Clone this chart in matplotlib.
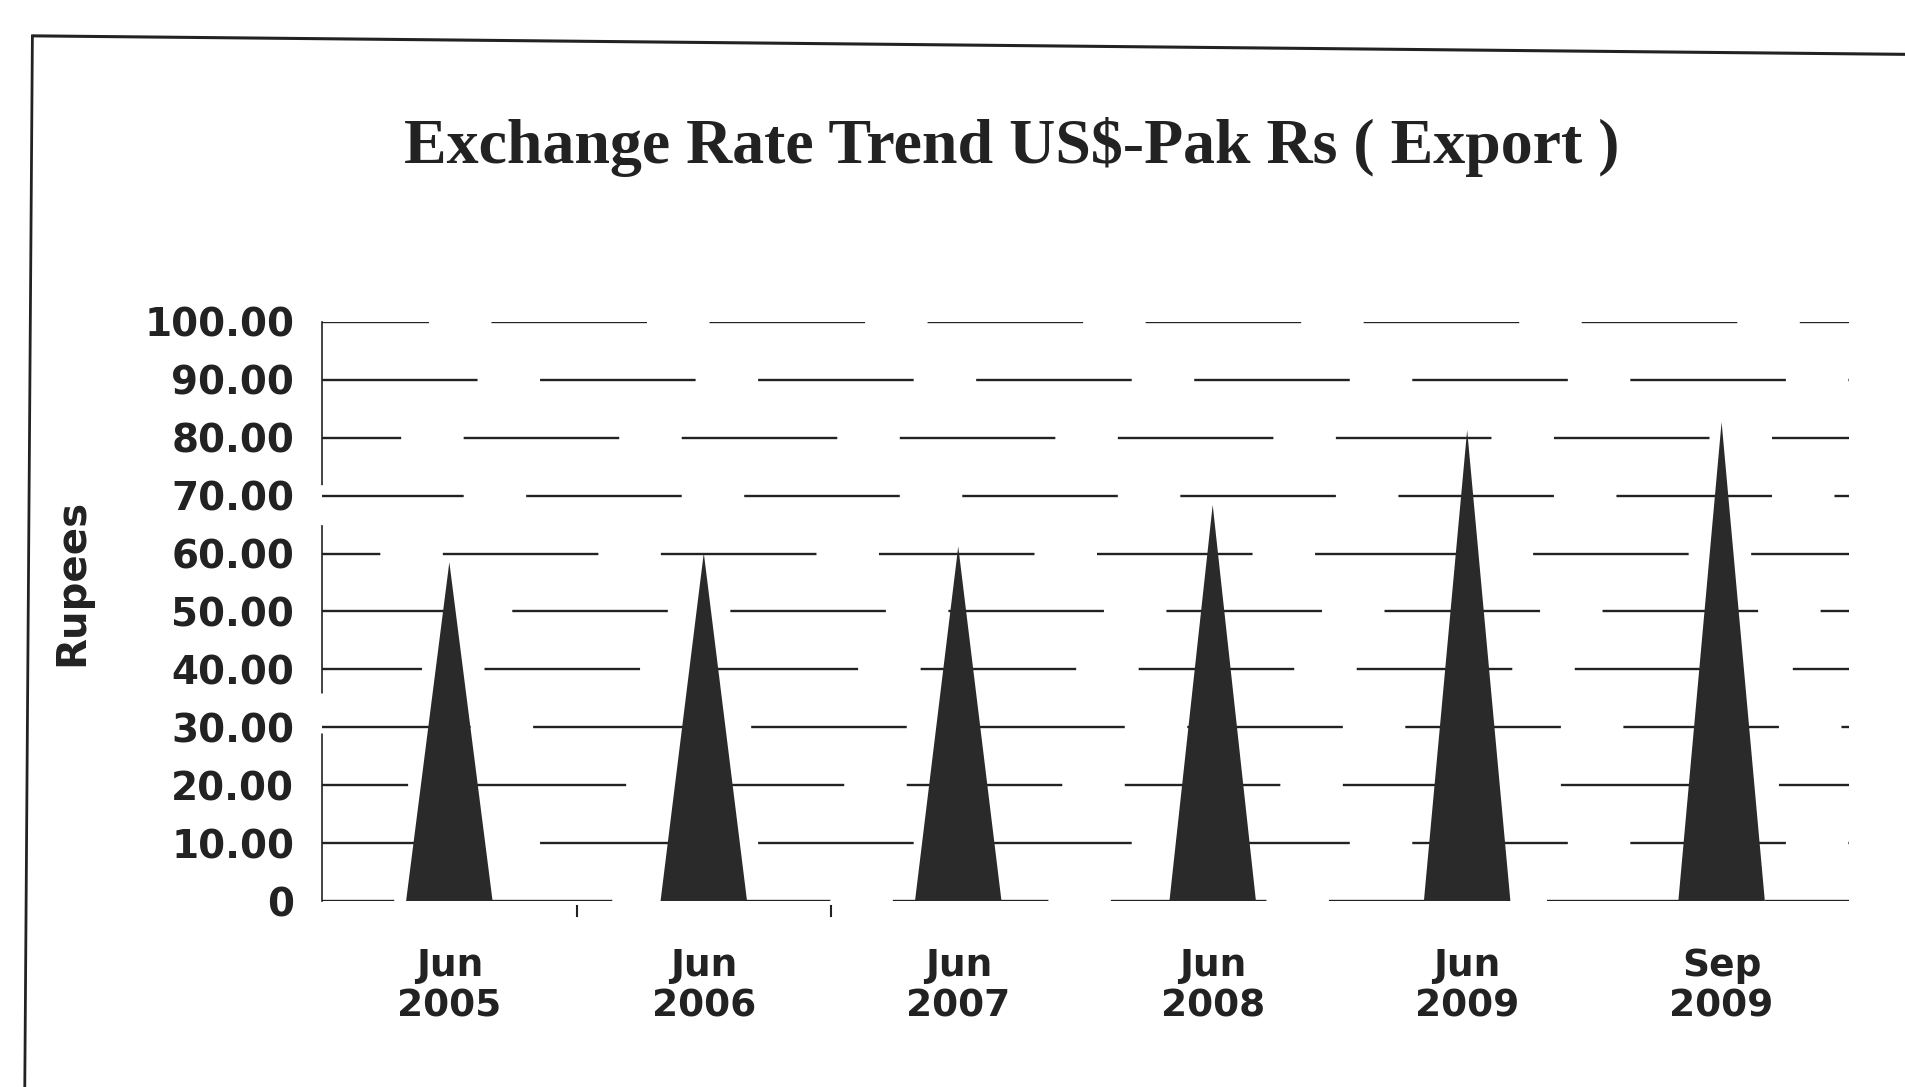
import matplotlib
matplotlib.use("Agg")
import matplotlib.pyplot as plt
from matplotlib.lines import Line2D

# Exchange rate (Pak Rs per US$, export) at each reporting date
periods = ["Jun\n2005", "Jun\n2006", "Jun\n2007", "Jun\n2008", "Jun\n2009", "Sep\n2009"]
rates = [58.5, 60.1, 61.2, 68.4, 81.3, 82.7]
y_ticks = [0, 10, 20, 30, 40, 50, 60, 70, 80, 90, 100]
y_tick_labels = ["0"] + [f"{v:.2f}" for v in y_ticks[1:]]

plt.rcParams["lines.scale_dashes"] = False

fig = plt.figure(figsize=(19.06, 10.87), dpi=100)
fig.patch.set_facecolor("white")
ax = fig.add_axes([0.169, 0.171, 0.801, 0.533])

ink = "#222222"
cone_color = "#2a2a2a"
sans = "DejaVu Sans"

# staggered dashed gridlines
offsets = [60, 0, 50, 5, 40, 20, 70, 10, 55, 0, 35]
for v, off in zip(y_ticks, offsets):
    ax.axhline(v, color=ink, lw=1.7, linestyle=(off, (112, 45)), zorder=1)

# cone-shaped bars built from the rate values
half_w = 0.17
for i, r in enumerate(rates):
    xs = [i - half_w, i, i + half_w]
    ys = [0, r, 0]
    ax.fill(xs, ys, color=cone_color, lw=0, zorder=2)

ax.set_xlim(-0.5, len(periods) - 0.5)
ax.set_ylim(0, 100)

for s in ["top", "right", "bottom"]:
    ax.spines[s].set_visible(False)
ax.spines["left"].set_color(ink)
ax.spines["left"].set_linewidth(1.2)
ax.spines["left"].set_linestyle((0, (120, 30)))

ax.set_yticks(y_ticks)
ax.set_yticklabels(y_tick_labels, fontsize=28, fontweight="bold",
                   family=sans, color=ink)
ax.tick_params(axis="y", length=0, pad=20)

ax.set_xticks(range(len(periods)))
ax.set_xticklabels(periods, fontsize=27, fontweight="bold",
                   family=sans, color=ink, linespacing=1.15)
ax.tick_params(axis="x", length=0, pad=34)

# small separators under the baseline between categories
for b in [0.5, 1.5]:
    ax.plot([b, b], [-0.8, -2.6], color=ink, lw=1.5, clip_on=False)

ax.set_ylabel("Rupees", fontsize=29, fontweight="bold",
              family=sans, color=ink)
ax.yaxis.set_label_coords(-0.1505, 0.55)

fig.text(0.531, 0.865, "Exchange Rate Trend US\\$-Pak Rs ( Export )",
         ha="center", va="center", fontsize=46, fontweight="bold",
         family="Liberation Serif", color=ink)

# page frame
fig.add_artist(Line2D([0.018, 1.0], [0.967, 0.950], color=ink, lw=2.2,
                      transform=fig.transFigure))
fig.add_artist(Line2D([0.017, 0.013], [0.967, 0.0], color=ink, lw=2.0,
                      transform=fig.transFigure))

fig.savefig("out.png", dpi=100, facecolor="white")
